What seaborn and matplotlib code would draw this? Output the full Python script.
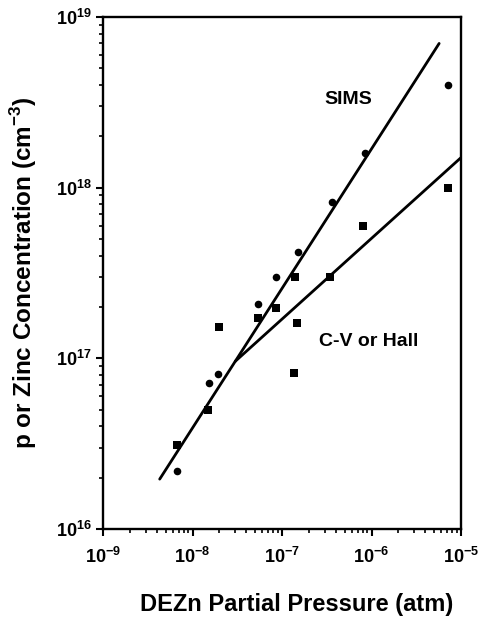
import numpy as np
import pandas as pd
import matplotlib
matplotlib.use("Agg")
import matplotlib.pyplot as plt
import matplotlib.ticker as mticker
import seaborn as sns

# --- data ---
sims_x = [6.7e-9, 1.53e-8, 1.93e-8, 5.4e-8, 8.6e-8, 1.5e-7, 3.6e-7, 8.5e-7, 7.2e-6]
sims_y = [2.2e16, 7.2e16, 8.1e16, 2.08e17, 3.0e17, 4.2e17, 8.2e17, 1.6e18, 4.0e18]

cv_x = [6.7e-9, 1.49e-8, 1.98e-8, 5.4e-8, 8.6e-8, 1.4e-7, 1.47e-7, 1.36e-7, 3.4e-7, 8.0e-7, 7.2e-6]
cv_y = [3.1e16, 5.0e16, 1.52e17, 1.72e17, 1.97e17, 3.0e17, 1.61e17, 8.2e16, 3.0e17, 6.0e17, 1.0e18]

# fitted lines (end points)
sims_line_x = [4.3e-9, 5.7e-6]
sims_line_y = [1.96e16, 7.0e18]
cv_line_x = [3.0e-8, 1.0e-5]
cv_line_y = [9.6e16, 1.5e18]

x_ticks = [1e-9, 1e-8, 1e-7, 1e-6, 1e-5]
x_ticklabels = [r"$\mathbf{10^{-9}}$", r"$\mathbf{10^{-8}}$", r"$\mathbf{10^{-7}}$",
                r"$\mathbf{10^{-6}}$", r"$\mathbf{10^{-5}}$"]
y_ticks = [1e16, 1e17, 1e18, 1e19]
y_ticklabels = [r"$\mathbf{10^{16}}$", r"$\mathbf{10^{17}}$", r"$\mathbf{10^{18}}$",
                r"$\mathbf{10^{19}}$"]

sns.set_style("white")
plt.rcParams["font.family"] = ["Liberation Sans", "DejaVu Sans"]
plt.rcParams["mathtext.fontset"] = "custom"
plt.rcParams["mathtext.rm"] = "Liberation Sans"
plt.rcParams["mathtext.bf"] = "Liberation Sans:bold"
for k in ["text.color", "axes.labelcolor", "xtick.color", "ytick.color", "axes.edgecolor"]:
    plt.rcParams[k] = "black"

fig = plt.figure(figsize=(4.86, 6.21), dpi=100)
ax = fig.add_axes([103/486, 1 - 529/621, (461-103)/486, (529-17)/621])

df_s = pd.DataFrame({"x": sims_x, "y": sims_y})
df_c = pd.DataFrame({"x": cv_x, "y": cv_y})
df_sl = pd.DataFrame({"x": sims_line_x, "y": sims_line_y})
df_cl = pd.DataFrame({"x": cv_line_x, "y": cv_line_y})

sns.lineplot(data=df_sl, x="x", y="y", ax=ax, color="black", linewidth=2.0)
sns.lineplot(data=df_cl, x="x", y="y", ax=ax, color="black", linewidth=2.0)
sns.scatterplot(data=df_s, x="x", y="y", ax=ax, marker="o", s=30, color="black",
                edgecolor="black", linewidth=0, zorder=3)
sns.scatterplot(data=df_c, x="x", y="y", ax=ax, marker="s", s=38, color="black",
                edgecolor="black", linewidth=0, zorder=3)

ax.set_xscale("log")
ax.set_yscale("log")
ax.set_xlim(1e-9, 1e-5)
ax.set_ylim(1e16, 1e19)

ax.set_xticks(x_ticks)
ax.set_xticklabels(x_ticklabels, fontsize=13)
ax.set_yticks(y_ticks)
ax.set_yticklabels(y_ticklabels, fontsize=13)
ax.xaxis.set_minor_locator(mticker.LogLocator(base=10, subs=np.arange(2, 10)))
ax.yaxis.set_minor_locator(mticker.LogLocator(base=10, subs=np.arange(2, 10)))
ax.xaxis.set_minor_formatter(mticker.NullFormatter())
ax.yaxis.set_minor_formatter(mticker.NullFormatter())
ax.tick_params(axis="x", which="major", direction="out", length=5, width=1.5,
               bottom=True, top=False, pad=8)
ax.tick_params(axis="y", which="major", direction="out", length=5, width=1.5,
               left=True, right=False, pad=3)
ax.tick_params(axis="both", which="minor", direction="out", length=3, width=1.2,
               bottom=True, left=True, top=False, right=False)

for sp in ax.spines.values():
    sp.set_visible(True)
    sp.set_linewidth(1.7)
    sp.set_color("black")

ax.set_xlabel("DEZn Partial Pressure (atm)", fontsize=17, fontweight="bold")
ax.xaxis.set_label_coords(0.54, -0.125)
ax.set_ylabel(r"p or Zinc Concentration (cm$^{\mathbf{-3}}$)", fontsize=17.5,
              fontweight="bold", labelpad=12)

ax.text(5.5e-7, 3.3e18, "SIMS", fontsize=14, fontweight="bold", ha="center", va="center")
ax.text(9.4e-7, 1.25e17, "C-V or Hall", fontsize=14, fontweight="bold", ha="center", va="center")

fig.savefig("out.png", dpi=100)
